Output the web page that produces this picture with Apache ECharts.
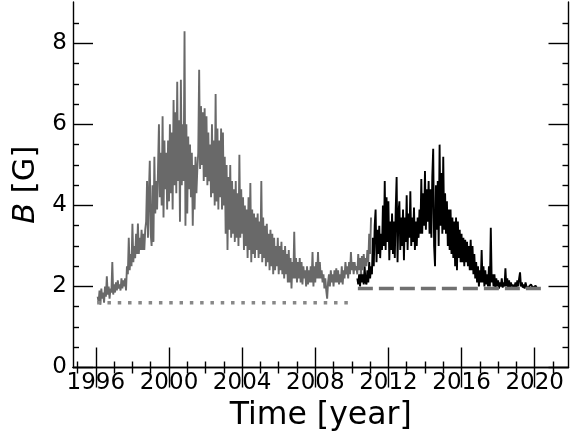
<!DOCTYPE html>
<html>
<head>
<meta charset="utf-8">
<script src="https://cdn.jsdelivr.net/npm/echarts@6/dist/echarts.min.js"></script>
<style>html,body{margin:0;padding:0;background:#fff}#c{width:570px;height:439px}</style>
</head>
<body>
<div id="c"></div>
<script>
// ---- data ----
const grayStart = 1996.1;
const grayStep = 0.05;
const grayValues = [
1.75,1.6,1.9,1.55,1.95,1.7,1.85,1.6,2.0,1.75,
2.25,1.8,2.0,1.7,1.95,1.85,2.6,1.8,2.05,1.85,
2.1,1.9,2.15,1.95,2.05,1.9,2.2,1.95,2.15,2.0,
2.2,1.9,2.5,2.3,3.2,2.4,2.8,2.5,3.55,2.6,
3.0,2.7,3.3,2.8,3.55,2.8,3.2,2.9,3.4,2.9,
3.3,2.9,3.4,3.6,4.6,3.2,4.3,5.1,3.3,3.0,
4.5,3.1,5.2,3.8,4.6,3.9,4.9,6.0,4.2,5.3,
4.0,6.2,3.7,5.6,4.4,5.3,3.9,5.6,4.1,6.0,
4.3,5.8,3.9,6.6,4.5,6.3,4.3,7.05,4.6,6.1,
3.6,7.1,4.5,6.0,4.6,8.3,3.5,6.0,3.8,5.7,
4.4,5.5,4.2,5.3,3.5,5.0,3.9,5.2,4.3,4.9,
5.3,7.35,4.9,6.45,5.0,6.3,4.6,6.4,4.7,6.2,
4.5,5.8,4.6,5.5,4.2,6.0,4.3,5.6,4.0,6.75,
4.1,5.9,3.9,5.6,4.2,5.9,3.9,5.8,4.0,5.2,
3.3,5.0,2.9,4.7,3.4,5.0,3.2,4.6,3.3,4.4,
3.1,4.6,3.2,4.3,3.0,5.25,3.2,4.4,3.3,4.2,
2.9,4.0,3.0,3.9,2.7,4.2,2.9,4.55,2.6,3.9,
2.8,3.8,2.7,3.7,2.9,3.8,2.7,3.6,2.8,4.6,
2.6,3.7,2.7,3.5,2.5,3.55,2.6,3.3,2.4,3.4,
2.5,3.3,2.3,3.2,2.4,3.0,2.5,3.2,2.3,3.0,
2.4,3.1,2.3,2.9,2.2,3.0,2.3,2.8,2.1,2.9,
2.1,2.7,1.95,2.6,2.2,3.35,2.2,2.7,2.1,2.6,
2.2,2.7,2.1,2.6,2.05,2.5,2.2,2.4,2.0,2.5,
2.05,2.4,2.1,2.5,2.1,2.85,2.0,2.5,2.1,2.6,
2.2,2.85,2.2,2.6,2.2,2.4,2.1,2.3,1.95,2.2,
1.9,1.7,2.1,2.3,2.0,2.4,2.1,2.3,2.0,2.4,
2.1,2.45,2.1,2.4,2.05,2.3,2.1,2.5,2.05,2.4,
2.2,2.6,2.3,2.5,2.2,2.6,2.3,2.85,2.4,2.6,
2.3,2.6,2.4,2.5,2.3,2.8,2.4,2.7,2.3,2.75,
2.4,2.8,2.5,2.7,2.5,2.9,2.6,3.3,2.8,3.7
];
const blackStart = 2010.3;
const blackStep = 0.05;
const blackValues = [
2.2,2.05,2.3,2.0,2.4,2.1,2.3,2.05,2.5,2.1,
2.05,2.4,2.1,2.6,2.2,2.5,2.3,3.2,2.5,3.5,
3.9,2.6,3.4,2.8,3.5,2.7,3.3,2.9,4.0,3.0,
4.6,2.9,4.2,3.1,4.1,2.65,3.6,2.9,3.8,2.8,
3.6,2.7,3.9,4.7,2.6,3.8,4.1,2.9,3.7,3.0,
3.9,2.65,3.7,3.1,4.25,2.9,3.8,3.2,4.35,3.0,
3.7,3.1,3.95,2.9,3.6,3.0,3.7,3.2,3.9,3.3,
4.65,3.3,4.3,3.5,4.85,3.4,4.4,3.6,4.6,3.3,
4.4,3.2,4.7,5.4,3.0,2.5,4.5,3.4,4.6,3.0,
5.5,3.5,4.8,3.3,5.2,3.4,4.3,3.3,4.1,3.0,
3.9,2.9,3.9,2.8,3.7,2.7,3.6,2.5,3.7,2.4,
3.6,2.7,3.4,2.6,3.3,2.6,3.2,2.5,3.15,2.6,
3.1,2.5,3.0,2.4,3.15,2.4,3.0,2.3,2.8,2.2,
2.6,2.1,2.5,2.0,2.4,2.1,2.9,2.1,2.5,2.0,
2.4,2.05,2.3,2.0,2.5,2.0,3.45,2.1,2.3,2.0,
2.3,1.95,2.2,2.0,2.15,1.95,2.1,2.0,2.2,1.97,
2.1,2.0,2.45,2.0,2.2,1.97,2.15,1.95,2.1,2.0,
2.05,1.95,2.0,2.1,1.95,2.15,2.0,2.2,2.35,2.0,
2.1,1.97,2.05,1.95,2.1,2.0,2.0,1.95,2.0,1.97,
2.05,2.07,1.97,2.0,1.97,2.02,1.98
];
const dottedLevel = 1.6, dottedFrom = 1996.07, dottedTo = 2010.15;
const dashedLevel = 1.95, dashedFrom = 2010.33, dashedTo = 2020.35;
const xMajorTicks = [1996,2000,2004,2008,2012,2016,2020];
const xMinorTicks = [1995,1997,1998,1999,2001,2002,2003,2005,2006,2007,2009,2010,2011,2013,2014,2015,2017,2018,2019,2021];
const yMajorTicks = [0,2,4,6,8];
const yMinorTicks = [0.5,1,1.5,2.5,3,3.5,4.5,5,5.5,6.5,7,7.5,8.5];
const xRange = [1994.75, 2021.85];
const yRange = [0, 9.02];
const xTitle = 'Time [year]';

// ---- build ----
const toPairs = (start, step, vals) => vals.map((v, i) => [+(start + i * step).toFixed(3), v]);
const F = 'DejaVu Sans';
const lineCol = '#000';
function xAx(pos, major, labels) {
  return {
    type: 'value', min: xRange[0], max: xRange[1], position: pos,
    axisLine: { show: major, lineStyle: { color: lineCol, width: 1.4 } },
    axisTick: { show: true, inside: true, length: major ? 20 : 6, customValues: major ? xMajorTicks : xMinorTicks,
      lineStyle: { color: lineCol, width: 1.4 } },
    axisLabel: labels ? { show: true, customValues: xMajorTicks, fontFamily: F, fontSize: 23, color: '#000', margin: 4,
      formatter: v => String(v) } : { show: false },
    splitLine: { show: false },
    name: labels ? xTitle : '', nameLocation: 'middle', nameGap: 29,
    nameTextStyle: { fontFamily: F, fontSize: 31.5, color: '#000' }
  };
}
function yAx(pos, major, labels) {
  return {
    type: 'value', min: yRange[0], max: yRange[1], position: pos,
    axisLine: { show: major, lineStyle: { color: lineCol, width: 1.4 } },
    axisTick: { show: true, inside: true, length: major ? 20 : 6, customValues: major ? yMajorTicks : yMinorTicks,
      lineStyle: { color: lineCol, width: 1.4 } },
    axisLabel: labels ? { show: true, customValues: yMajorTicks, fontFamily: F, fontSize: 23, color: '#000', margin: 6,
      formatter: v => String(v) } : { show: false },
    splitLine: { show: false },
    name: labels ? '{i|B} [G]' : '', nameLocation: 'middle', nameGap: 26, nameRotate: 90,
    nameTextStyle: { fontFamily: F, fontSize: 30.5, color: '#000',
      rich: { i: { fontFamily: F, fontSize: 30.5, fontStyle: 'italic', color: '#000' } } }
  };
}
const chart = echarts.init(document.getElementById('c'), null, { renderer: 'canvas' });
chart.setOption({
  animation: false,
  backgroundColor: '#fff',
  grid: { left: 73, right: 1.5, top: 2, bottom: 71.5, containLabel: false },
  xAxis: [xAx('bottom', true, true), xAx('bottom', false, false), xAx('top', true, false), xAx('top', false, false)],
  yAxis: [yAx('left', true, true), yAx('left', false, false), yAx('right', true, false), yAx('right', false, false)],
  series: [
    { type: 'line', data: toPairs(blackStart, blackStep, blackValues), showSymbol: false, symbol: 'none',
      lineStyle: { color: '#000', width: 1.9 }, z: 2 },
    { type: 'line', data: toPairs(grayStart, grayStep, grayValues), showSymbol: false, symbol: 'none',
      lineStyle: { color: '#696969', width: 1.9 }, z: 3 },
    { type: 'line', data: [[dottedFrom, dottedLevel], [dottedTo, dottedLevel]], showSymbol: false, symbol: 'none',
      lineStyle: { color: '#888', width: 3.5, type: [3.5, 6.8], cap: 'butt' }, z: 4 },
    { type: 'line', data: [[dashedFrom, dashedLevel], [dashedTo, dashedLevel]], showSymbol: false, symbol: 'none',
      lineStyle: { color: '#707070', width: 3.5, type: [15, 6], cap: 'butt' }, z: 4 }
  ]
});
</script>
</body>
</html>
